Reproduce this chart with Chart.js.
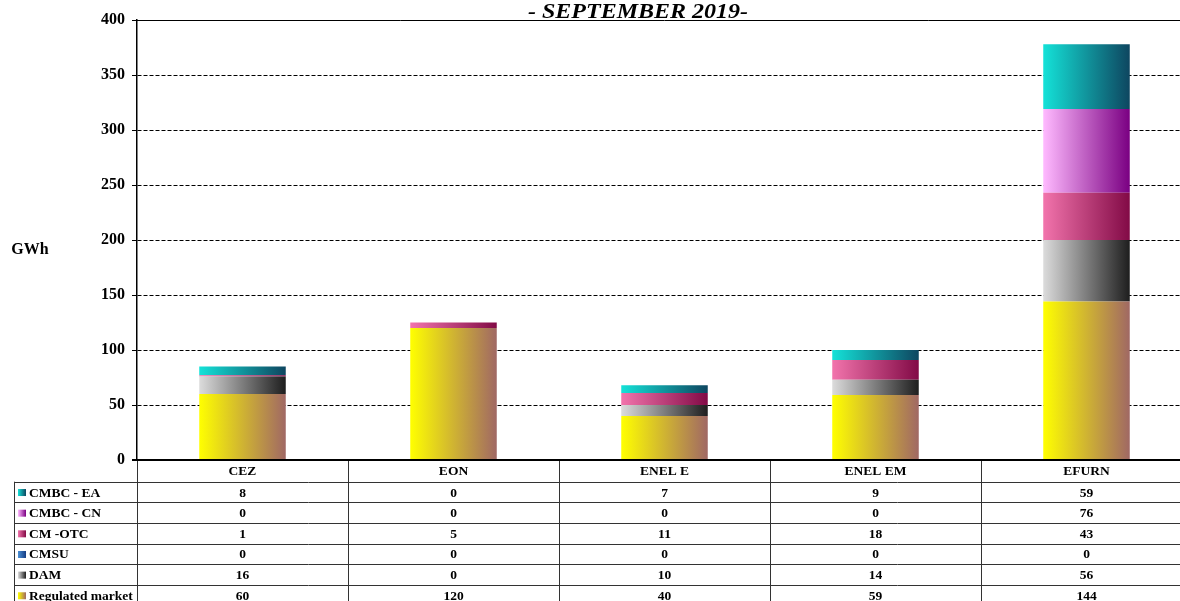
<!DOCTYPE html>
<html lang="en">
<head>
    <meta charset="UTF-8">
    <title>September 2019</title>
    <style>
        body {
            margin: 0;
            background: #fff;
            overflow: hidden;
        }
        #wrap {
            width: 1195px;
            height: 601px;
        }
    </style>
</head>
<body>
    <div id="wrap">
        <canvas id="chart" width="1195" height="601"></canvas>
    </div>

    <script src="https://cdn.jsdelivr.net/npm/chart.js@4"></script>
    <script>
        // data
        const categories = ['CEZ', 'EON', 'ENEL E', 'ENEL EM', 'EFURN'];
        const regulatedMarket = [60, 120, 40, 59, 144];
        const dam = [16, 0, 10, 14, 56];
        const cmsu = [0, 0, 0, 0, 0];
        const cmOtc = [1, 5, 11, 18, 43];
        const cmbcCn = [0, 0, 0, 0, 76];
        const cmbcEa = [8, 0, 7, 9, 59];
        const yTicks = [0, 50, 100, 150, 200, 250, 300, 350, 400];

        const serif = '"Liberation Serif", "Times New Roman", serif';
        const barPct = 0.41;

        // horizontal gradient across each bar
        function barGradient(c0, c1) {
            return function (ctx) {
                const ch = ctx.chart;
                const xs = ch.scales.x;
                if (ctx.type !== 'data' || !xs || !ch.chartArea) return c0;
                const cx = xs.getPixelForValue(ctx.dataIndex);
                const w = xs.width / categories.length * barPct;
                const g = ch.ctx.createLinearGradient(cx - w / 2, 0, cx + w / 2, 0);
                g.addColorStop(0, c0);
                g.addColorStop(1, c1);
                return g;
            };
        }

        const series = [
            { label: 'Regulated market', data: regulatedMarket, c0: '#ffff00', c1: '#a06864' },
            { label: 'DAM', data: dam, c0: '#dcdcdc', c1: '#1e1e1e' },
            { label: 'CMSU', data: cmsu, c0: '#4a90d6', c1: '#163c82' },
            { label: 'CM -OTC', data: cmOtc, c0: '#f274ac', c1: '#820a46' },
            { label: 'CMBC - CN', data: cmbcCn, c0: '#ffbaff', c1: '#7a0082' },
            { label: 'CMBC - EA', data: cmbcEa, c0: '#14e2d8', c1: '#0e4660' }
        ];

        // title, axis unit and the data table under the bars
        const tablePlugin = {
            id: 'dataTable',
            afterDraw(chart) {
                const ctx = chart.ctx;
                const area = chart.chartArea;
                const xs = chart.scales.x;
                const colW = xs.width / categories.length;
                const rowTop = 481.7;
                const rowH = 20.65;
                const rows = series.slice().reverse();

                ctx.save();
                ctx.fillStyle = '#000';
                ctx.textAlign = 'center';
                ctx.textBaseline = 'alphabetic';
                // title is drawn a bit wider than the font, like the original
                ctx.font = 'italic bold 20px ' + serif;
                const title = '- SEPTEMBER 2019-';
                const tw = ctx.measureText(title).width;
                ctx.save();
                ctx.translate(638, 17.5);
                ctx.scale(220 / tw, 1);
                ctx.fillText(title, 0, 0);
                ctx.restore();

                ctx.font = 'bold 16px ' + serif;
                ctx.textBaseline = 'middle';
                ctx.fillText('GWh', 30, 250);

                // top border line
                ctx.strokeStyle = '#000';
                ctx.lineWidth = 1;
                ctx.beginPath();
                ctx.moveTo(area.left, area.top + 0.5);
                ctx.lineTo(area.right, area.top + 0.5);
                ctx.stroke();

                // table grid
                ctx.strokeStyle = '#333';
                ctx.lineWidth = 1;
                ctx.beginPath();
                for (let k = 0; k <= categories.length; k++) {
                    const x = Math.round(area.left + k * colW) + 0.5;
                    ctx.moveTo(x, area.bottom);
                    ctx.lineTo(x, 601);
                }
                ctx.moveTo(14.5, rowTop);
                ctx.lineTo(14.5, 601);
                for (let r = 0; r < rows.length; r++) {
                    const y = Math.round(rowTop + r * rowH) + 0.5;
                    ctx.moveTo(14, y);
                    ctx.lineTo(area.right, y);
                }
                ctx.stroke();

                // zero line
                ctx.strokeStyle = '#000';
                ctx.lineWidth = 2;
                ctx.beginPath();
                ctx.moveTo(area.left - 5, area.bottom);
                ctx.lineTo(area.right, area.bottom);
                ctx.stroke();

                // header and values
                ctx.font = 'bold 13.5px ' + serif;
                categories.forEach((c, i) => {
                    const cx = xs.getPixelForValue(i);
                    ctx.fillText(c, cx, 472);
                    rows.forEach((s, r) => {
                        ctx.fillText(String(s.data[i]), cx, rowTop + r * rowH + rowH / 2 + 1);
                    });
                });

                // legend keys
                ctx.textAlign = 'left';
                rows.forEach((s, r) => {
                    const ym = rowTop + r * rowH + rowH / 2 + 1;
                    const g = ctx.createLinearGradient(18, 0, 26, 0);
                    g.addColorStop(0, s.c0);
                    g.addColorStop(1, s.c1);
                    ctx.fillStyle = g;
                    ctx.fillRect(18, ym - 4, 8, 7);
                    ctx.fillStyle = '#000';
                    ctx.fillText(s.label, 29, ym);
                });
                ctx.restore();
            }
        };

        new Chart(document.getElementById('chart'), {
            type: 'bar',
            data: {
                labels: categories,
                datasets: series.map(s => ({
                    label: s.label,
                    data: s.data,
                    backgroundColor: barGradient(s.c0, s.c1),
                    borderWidth: 0,
                    barPercentage: barPct,
                    categoryPercentage: 1
                }))
            },
            options: {
                responsive: false,
                animation: false,
                devicePixelRatio: 1,
                layout: { padding: { top: 20, right: 3, left: 0, bottom: 0 } },
                plugins: {
                    legend: { display: false },
                    tooltip: { enabled: false }
                },
                scales: {
                    x: {
                        stacked: true,
                        grid: { display: false },
                        border: { display: false },
                        ticks: { display: false },
                        afterFit(s) { s.height = 141; }
                    },
                    y: {
                        stacked: true,
                        min: 0,
                        max: 400,
                        afterFit(s) { s.width = 137; },
                        afterBuildTicks(s) { s.ticks = yTicks.map(v => ({ value: v })); },
                        grid: {
                            color: '#000',
                            lineWidth: 1,
                            tickBorderDash: [],
                            tickLength: 5
                        },
                        border: { display: true, color: '#000', width: 1.5, dash: [4, 2] },
                        ticks: {
                            color: '#000',
                            padding: 7,
                            font: { family: serif, size: 16, weight: 'bold' }
                        }
                    }
                }
            },
            plugins: [tablePlugin]
        });
    </script>
</body>
</html>
